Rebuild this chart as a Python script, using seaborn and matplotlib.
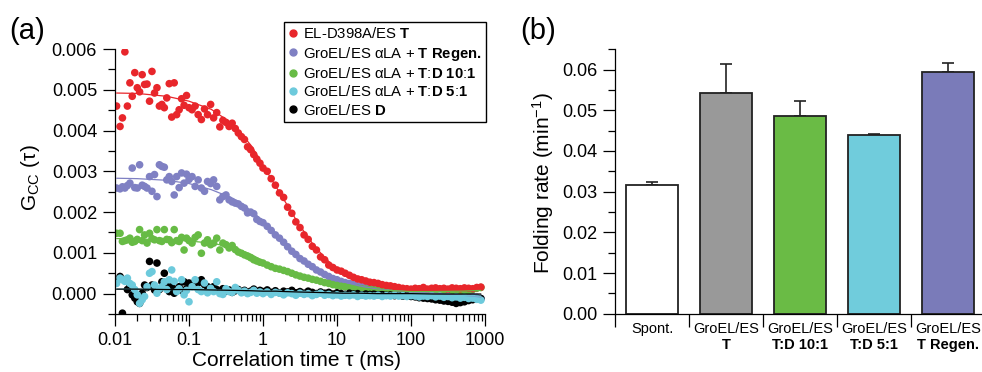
import numpy as np
import pandas as pd
import matplotlib
matplotlib.use("Agg")
import matplotlib.pyplot as plt
from matplotlib.lines import Line2D
from matplotlib.ticker import MultipleLocator, LogLocator, NullFormatter, FuncFormatter, FormatStrFormatter
import seaborn as sns

# ---------------- data: (a) cross-correlation curves ----------------
tau_ms = [
    0.0105, 0.0117, 0.0126, 0.0136, 0.0147, 0.0159, 0.0171, 0.0185, 0.0200, 0.0215,
    0.0233, 0.0251, 0.0271, 0.0293, 0.0316, 0.0342, 0.0369, 0.0398, 0.0430, 0.0464,
    0.0501, 0.0541, 0.0584, 0.0631, 0.0681, 0.0736, 0.0794, 0.0858, 0.0926,
    0.100, 0.110, 0.121, 0.133, 0.147, 0.162, 0.178, 0.196, 0.215, 0.237,
    0.261, 0.287, 0.316, 0.348, 0.383, 0.422, 0.464, 0.511, 0.562, 0.619,
    0.681, 0.750, 0.825, 0.909,
    1.00, 1.14, 1.29, 1.47, 1.67, 1.90, 2.15, 2.45, 2.78, 3.16, 3.59, 4.08, 4.64, 5.27, 6.00, 6.81, 7.74, 8.80,
    10.0, 11.4, 12.9, 14.7, 16.7, 19.0, 21.5, 24.5, 27.8, 31.6, 35.9, 40.8, 46.4, 52.7, 60.0, 68.1, 77.4, 88.0,
    100, 114, 129, 147, 167, 190, 215, 245, 278, 316, 359, 408, 464, 527, 600, 681, 774, 880,
]

# G_cc values in units of 1e-3
g_T = [
    4.60, 4.10, 4.31, 5.93, 4.60, 5.17, 4.84, 5.42, 5.05, 4.95, 5.37, 5.13, 5.14, 4.72, 5.45,
    4.92, 5.05, 4.60, 4.64, 4.56, 4.80, 5.15, 4.33, 5.17, 4.39, 4.51, 4.78, 4.62, 4.86,
    4.56, 4.51, 4.60, 4.39, 4.27, 4.53, 4.39, 4.64, 4.31, 4.44, 4.09, 4.25, 4.20, 4.10, 4.18,
    4.05, 3.94, 3.85, 3.78, 3.60, 3.53, 3.41, 3.30, 3.20,
    3.08, 3.00, 2.82, 2.66, 2.47, 2.36, 2.12, 1.97, 1.76, 1.62, 1.44, 1.33, 1.16, 1.07, 0.90, 0.83, 0.70, 0.64,
    0.58, 0.55, 0.50, 0.45, 0.40, 0.36, 0.34, 0.31, 0.28, 0.27, 0.25, 0.22, 0.20, 0.19, 0.17, 0.15, 0.13, 0.12,
    0.11, 0.13, 0.12, 0.15, 0.11, 0.13, 0.14, 0.12, 0.13, 0.11, 0.14, 0.13, 0.12, 0.14, 0.13, 0.12, 0.15, 0.16,
]
g_regen = [
    2.59, 2.57, 2.62, 2.59, 2.65, 2.71, 3.08, 2.60, 2.59, 3.16, 2.66, 2.63, 2.59, 2.87, 2.51,
    2.92, 2.38, 3.16, 3.12, 3.10, 2.79, 2.87, 2.75, 2.42, 2.87, 2.60, 2.96, 2.71, 2.93,
    2.80, 2.87, 2.63, 2.79, 2.59, 2.51, 2.75, 2.70, 2.79, 2.63, 2.30, 2.38, 2.42, 2.30, 2.25,
    2.22, 2.20, 2.14, 2.10, 1.98, 2.00, 1.96, 1.82, 1.77,
    1.74, 1.65, 1.55, 1.44, 1.36, 1.26, 1.15, 1.04, 0.96, 0.86, 0.80, 0.72, 0.66, 0.58, 0.53, 0.47, 0.42, 0.37,
    0.34, 0.30, 0.27, 0.25, 0.22, 0.19, 0.17, 0.15, 0.13, 0.12, 0.10, 0.09, 0.08, 0.07, 0.06, 0.05, 0.05, 0.04,
    0.03, 0.04, 0.02, 0.02, 0.01, 0.02, 0.00, 0.01, -0.01, -0.02, -0.01, -0.03, -0.04, -0.03, -0.05, -0.07, -0.09, -0.12,
]
g_td10 = [
    1.48, 1.48, 1.28, 1.30, 1.32, 1.36, 1.26, 1.28, 1.33, 1.57, 1.30, 1.44, 1.24, 1.48, 1.35,
    1.32, 1.57, 1.30, 1.28, 1.57, 1.33, 1.32, 1.25, 1.57, 1.30, 1.28, 1.38, 1.07, 1.36,
    1.30, 1.24, 1.38, 1.44, 0.99, 1.24, 1.32, 1.20, 1.24, 1.36, 1.07, 1.24, 1.20, 1.12, 1.18,
    1.08, 1.02, 0.99, 0.95, 0.92, 0.88, 0.83, 0.80, 0.77,
    0.75, 0.70, 0.66, 0.62, 0.60, 0.57, 0.54, 0.50, 0.46, 0.43, 0.40, 0.38, 0.35, 0.33, 0.30, 0.27, 0.25, 0.22,
    0.20, 0.18, 0.17, 0.15, 0.14, 0.13, 0.12, 0.11, 0.10, 0.09, 0.08, 0.08, 0.07, 0.07, 0.06, 0.06, 0.05, 0.05,
    0.05, 0.04, 0.05, 0.04, 0.05, 0.04, 0.05, 0.05, 0.04, 0.06, 0.05, 0.06, 0.07, 0.06, 0.08, 0.10, 0.13, 0.15,
]
g_td5 = [
    0.25, 0.38, 0.34, 0.30, 0.38, 0.25, 0.21, 0.10, -0.03, -0.24, -0.15, -0.07, 0.17, 0.50, 0.54,
    0.21, 0.01, 0.12, 0.17, 0.29, 0.10, 0.34, 0.58, 0.30, 0.05, 0.12, 0.34, -0.03, 0.08,
    -0.20, 0.17, 0.34, 0.10, 0.05, 0.26, 0.02, 0.13, 0.05, 0.29, 0.00, -0.02, 0.12, 0.05, 0.03,
    0.15, 0.08, 0.02, 0.06, 0.00, 0.03, 0.08, 0.01, 0.04,
    0.00, 0.04, -0.02, 0.03, 0.01, -0.03, 0.02, 0.00, -0.04, 0.01, -0.02, 0.00, -0.05, -0.02, 0.01, -0.04, -0.02, -0.05,
    -0.03, -0.06, -0.04, -0.05, -0.03, -0.07, -0.04, -0.06, -0.05, -0.06, -0.04, -0.07, -0.05, -0.06, -0.04, -0.06, -0.05, -0.07,
    -0.05, -0.06, -0.08, -0.06, -0.07, -0.05, -0.08, -0.06, -0.09, -0.07, -0.10, -0.08, -0.11, -0.09, -0.12, -0.11, -0.14, -0.16,
]
g_D = [
    0.30, 0.42, -0.48, 0.34, 0.10, 0.17, -0.03, -0.11, -0.20, -0.24, 0.01, 0.21, 0.15, 0.79, 0.21,
    0.09, 0.75, 0.10, 0.29, 0.50, 0.21, 0.05, 0.17, 0.01, 0.10, 0.17, 0.08, 0.29, 0.12,
    0.26, 0.21, 0.30, 0.26, 0.34, 0.22, 0.17, 0.13, 0.17, 0.10, 0.05, 0.12, 0.06, 0.09, 0.03,
    0.07, 0.10, 0.04, 0.08, 0.02, 0.06, 0.11, 0.05, 0.08,
    0.05, 0.09, 0.03, 0.07, 0.02, 0.06, 0.04, 0.08, 0.02, 0.05, 0.01, 0.06, 0.03, 0.00, 0.04, 0.01, 0.03, -0.01,
    0.02, 0.00, -0.02, 0.01, -0.01, 0.00, -0.03, -0.01, -0.02, -0.01, -0.03, -0.02, -0.04, -0.03, -0.05, -0.04, -0.06, -0.05,
    -0.07, -0.08, -0.10, -0.11, -0.12, -0.13, -0.15, -0.16, -0.18, -0.19, -0.21, -0.24, -0.22, -0.20, -0.17, -0.15, -0.13, -0.12,
]

# fitted curves (units of 1e-3) at these lag times
fit_tau_ms = [0.0105, 0.02, 0.05, 0.1, 0.2, 0.4, 0.7, 1, 1.5, 2, 3, 5, 8, 12, 20, 35, 60, 100, 200, 500, 880]
fit_T = [4.92, 4.91, 4.84, 4.72, 4.52, 4.15, 3.62, 3.15, 2.62, 2.25, 1.72, 1.15, 0.76, 0.52, 0.34, 0.23, 0.17, 0.14, 0.13, 0.12, 0.12]
fit_regen = [2.83, 2.82, 2.78, 2.70, 2.55, 2.33, 2.03, 1.78, 1.47, 1.25, 0.95, 0.62, 0.42, 0.29, 0.19, 0.11, 0.07, 0.04, 0.01, -0.04, -0.08]
fit_td10 = [1.35, 1.34, 1.32, 1.29, 1.24, 1.13, 0.96, 0.80, 0.66, 0.57, 0.45, 0.33, 0.24, 0.18, 0.13, 0.09, 0.07, 0.05, 0.05, 0.06, 0.08]
fit_td5 = [0.11, 0.11, 0.10, 0.10, 0.09, 0.08, 0.07, 0.06, 0.05, 0.05, 0.04, 0.03, 0.02, 0.01, 0.00, -0.01, -0.02, -0.03, -0.04, -0.05, -0.06]
fit_D = [0.11, 0.11, 0.10, 0.10, 0.09, 0.08, 0.07, 0.06, 0.06, 0.05, 0.04, 0.03, 0.02, 0.01, 0.01, 0.00, 0.00, 0.00, -0.01, -0.01, -0.01]

series_labels = [
    "EL-D398A/ES $\\mathbf{T}$",
    "GroEL/ES \u03b1LA + $\\mathbf{T\\ Regen.}$",
    "GroEL/ES \u03b1LA + $\\mathbf{T}$:$\\mathbf{D\\ 10}$:$\\mathbf{1}$",
    "GroEL/ES \u03b1LA + $\\mathbf{T}$:$\\mathbf{D\\ 5}$:$\\mathbf{1}$",
    "GroEL/ES $\\mathbf{D}$",
]
series_keys = ["T", "Regen", "TD10", "TD5", "D"]
series_colors = {"T": "#e8262b", "Regen": "#7f80c3", "TD10": "#67bb45", "TD5": "#6dcadc", "D": "#000000"}

# ---------------- data: (b) folding rates ----------------
bar_keys = ["Spont.", "T", "T:D 10:1", "T:D 5:1", "T Regen."]
bar_line1 = ["Spont.", "GroEL/ES", "GroEL/ES", "GroEL/ES", "GroEL/ES"]
bar_line2 = ["", "T", "T:D 10:1", "T:D 5:1", "T Regen."]
folding_rate = [0.0317, 0.0543, 0.0487, 0.0439, 0.0594]
folding_err = [0.0006, 0.0072, 0.0036, 0.0003, 0.0023]
bar_colors = ["#ffffff", "#999999", "#6abb45", "#70ccdc", "#7a7bb9"]

# ---------------- style ----------------
sns.set_theme(style="ticks")
plt.rcParams["font.family"] = ["Liberation Sans", "DejaVu Sans"]
plt.rcParams["mathtext.fontset"] = "custom"
plt.rcParams["mathtext.rm"] = "Liberation Sans"
plt.rcParams["mathtext.it"] = "Liberation Sans:italic"
plt.rcParams["mathtext.bf"] = "Liberation Sans:bold"
plt.rcParams["axes.linewidth"] = 0.9
plt.rcParams["axes.edgecolor"] = "black"
plt.rcParams["text.color"] = "black"

W, H = 982, 372
fig = plt.figure(figsize=(W / 100, H / 100), dpi=100)
ax_a = fig.add_axes([115 / W, 1 - 314 / H, 370 / W, 265 / H])
ax_b = fig.add_axes([615 / W, 1 - 313.7 / H, 370 / W, 264.4 / H])

tick_kw = dict(colors="black", labelsize=13, width=0.9, pad=4.3, direction="out")

# ---------------- panel (a) ----------------
frames = []
draw_order = [("Regen", g_regen), ("TD10", g_td10), ("T", g_T), ("D", g_D), ("TD5", g_td5)]
for key, vals in draw_order:
    frames.append(pd.DataFrame({"tau": tau_ms, "G": np.array(vals) * 1e-3, "series": key}))
df_a = pd.concat(frames, ignore_index=True)

sns.scatterplot(data=df_a, x="tau", y="G", hue="series", palette=series_colors,
                s=30, linewidth=0, legend=False, ax=ax_a, zorder=2)
fits = {"T": fit_T, "Regen": fit_regen, "TD10": fit_td10, "TD5": fit_td5, "D": fit_D}
for key in ["Regen", "TD10", "T", "TD5", "D"]:
    ax_a.plot(fit_tau_ms, np.array(fits[key]) * 1e-3, color=series_colors[key], lw=0.9, zorder=3)

ax_a.set_xscale("log")
ax_a.set_xlim(0.01, 1000)
ax_a.set_ylim(-0.0005, 0.006)
ax_a.xaxis.set_major_locator(LogLocator(base=10, numticks=10))
ax_a.xaxis.set_minor_locator(LogLocator(base=10, subs=np.arange(2, 10), numticks=20))
ax_a.xaxis.set_major_formatter(FuncFormatter(lambda v, p: f"{v:g}"))
ax_a.xaxis.set_minor_formatter(NullFormatter())
ax_a.yaxis.set_major_locator(MultipleLocator(0.001))
ax_a.yaxis.set_minor_locator(MultipleLocator(0.0005))
ax_a.yaxis.set_major_formatter(FormatStrFormatter("%.3f"))
ax_a.tick_params(which="major", length=8.6, **tick_kw)
ax_a.tick_params(which="minor", length=5, width=0.9, colors="black", direction="out")
ax_a.set_xlabel("")
ax_a.set_ylabel("")
sns.despine(ax=ax_a)

handles = [Line2D([], [], marker="o", ls="", color=series_colors[k], markersize=5.0) for k in series_keys]
leg = ax_a.legend(handles, series_labels, loc="upper right", bbox_to_anchor=(1.003, 1.102),
                  borderaxespad=0, fontsize=10.7, frameon=True, fancybox=False, framealpha=1,
                  edgecolor="black", handlelength=0.6, handletextpad=0.35, labelspacing=0.22,
                  borderpad=0.3)
leg.get_frame().set_linewidth(1.0)
leg.set_zorder(5)

fig.text(30 / W, 1 - 178 / H, "G$_{\\mathrm{CC}}$ (\u03c4)", rotation=90, fontsize=15, ha="center", va="center")
fig.text(297 / W, 1 - 361 / H, "Correlation time \u03c4 (ms)", fontsize=15, ha="center", va="center")
fig.text(27 / W, 1 - 31 / H, "(a)", fontsize=21, ha="center", va="center")

# ---------------- panel (b) ----------------
df_b = pd.DataFrame({"condition": bar_keys, "rate": folding_rate})
sns.barplot(data=df_b, x="condition", y="rate", hue="condition", palette=bar_colors,
            saturation=1, width=0.7, edgecolor="#222222", linewidth=1.3, legend=False,
            ax=ax_b, zorder=2)
xpos = np.arange(len(bar_keys))
ax_b.errorbar(xpos, folding_rate, yerr=[np.zeros(len(folding_err)), folding_err], fmt="none",
              ecolor="#222222", elinewidth=1.2, capsize=4.5, capthick=1.2, zorder=1)
ax_b.set_xlim(-0.5, 4.5)
ax_b.set_ylim(0, 0.065)
ax_b.set_xticks(np.arange(-0.5, len(bar_keys), 1.0))
ax_b.set_xticklabels([])
ax_b.yaxis.set_major_locator(MultipleLocator(0.01))
ax_b.yaxis.set_minor_locator(MultipleLocator(0.005))
ax_b.yaxis.set_major_formatter(FormatStrFormatter("%.2f"))
ax_b.tick_params(axis="y", which="major", length=8.6, **tick_kw)
ax_b.tick_params(axis="y", which="minor", length=5, width=0.9, colors="black", direction="out")
ax_b.tick_params(axis="x", which="major", length=9.4, width=0.9, colors="black", direction="out")
ax_b.set_xlabel("")
ax_b.set_ylabel("")
sns.despine(ax=ax_b)

for i, (l1, l2) in enumerate(zip(bar_line1, bar_line2)):
    ax_b.annotate(l1, xy=(i, 0), xycoords=("data", "axes fraction"), xytext=(0, -11.0),
                  textcoords="offset points", ha="center", va="center", fontsize=10.5)
    if l2:
        ax_b.annotate(l2, xy=(i, 0), xycoords=("data", "axes fraction"), xytext=(0, -22.5),
                      textcoords="offset points", ha="center", va="center", fontsize=10.5,
                      fontweight="bold")

fig.text(543 / W, 1 - 183 / H, "Folding rate (min$^{-1}$)", rotation=90, fontsize=15, ha="center", va="center")
fig.text(538 / W, 1 - 31 / H, "(b)", fontsize=21, ha="center", va="center")

fig.savefig("out.png", dpi=100)
